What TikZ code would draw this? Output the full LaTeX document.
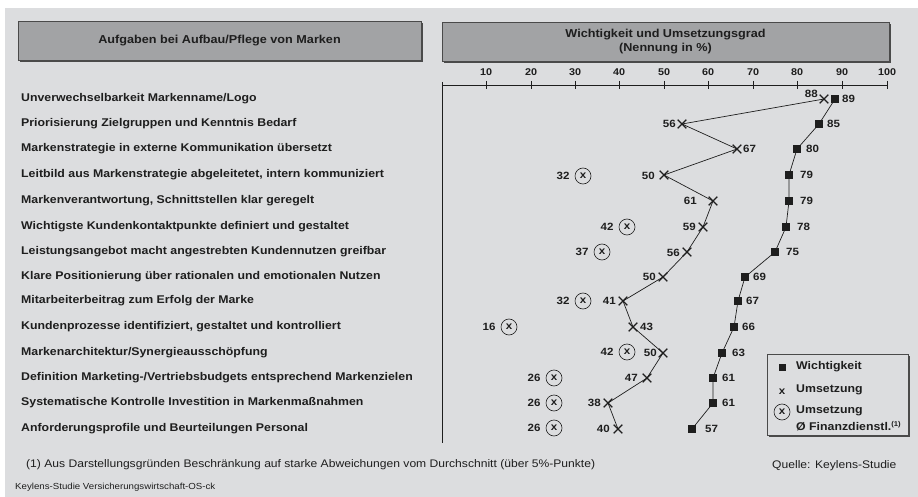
\documentclass[tikz,border=0pt]{standalone}
\usepackage{fontspec}
\setmainfont{Liberation Sans}[FakeStretch=1.1]
\usetikzlibrary{shapes.misc,shadows}
\definecolor{bg}{HTML}{DCDDDF}
\definecolor{hdr}{HTML}{A2A3A5}
\definecolor{ink}{HTML}{1E1E1E}
\definecolor{shd}{HTML}{4A4A4A}
\begin{document}
\begin{tikzpicture}[x=1pt,y=-1pt,
  lab/.style={anchor=west, font=\fontsize{11.2}{13}\selectfont\bfseries, text=ink, inner sep=0pt},
  num/.style={font=\fontsize{10.5}{12}\selectfont\bfseries, text=ink, inner sep=0pt},
  tick/.style={font=\fontsize{9.8}{12}\selectfont\bfseries, text=ink, inner sep=0pt},
  wsq/.style={fill=ink, minimum size=8pt, inner sep=0pt},
  ux/.style={cross out, draw=ink, line width=1.2pt, minimum size=7.5pt, inner sep=0pt},
  cx/.style={circle, draw=ink, line width=0.6pt, minimum size=16pt, inner sep=0pt, font=\fontsize{10.5}{12}\selectfont\bfseries, text=ink},
  hbox/.style={draw=shd, fill=hdr, line width=0.8pt, font=\fontsize{11.5}{14}\selectfont\bfseries, text=ink,
     drop shadow={shadow xshift=2pt, shadow yshift=-2pt, fill=shd, opacity=1}},
  conn/.style={draw=ink, line width=0.7pt},
  axis/.style={draw=ink, line width=0.8pt}]
\useasboundingbox (0,0) rectangle (918,497);
\fill[white] (0,0) rectangle (918,497);
\fill[bg] (5,8) rectangle (918,497);

% headers
\node[hbox, minimum width=403pt, minimum height=39pt] (h1) at (219.5,40.5) {Aufgaben bei Aufbau/Pflege von Marken};
\node[hbox, minimum width=447pt, minimum height=39pt, align=center] (h2) at (665.5,41.5) {Wichtigkeit und Umsetzungsgrad\\(Nennung in \%)};

% axis
\coordinate (a0) at (442,85);
\coordinate (a100) at (887,85);
\coordinate (abot) at (442,443);
\draw[axis] (442,82) -- (abot);
\draw[axis] (a0) -- (a100);
\foreach \v/\xx in {10/486,20/531,30/575,40/619,50/664,60/708,70/753,80/797,90/842,100/887}{
  \draw[axis] (\xx,81) -- (\xx,89);
  \node[tick] (t\v) at (\xx,72) {\v};
}

% row labels
\node[lab] (r1) at (21,99) {Unverwechselbarkeit Markenname/Logo};
\node[lab] (r2) at (21,124) {Priorisierung Zielgruppen und Kenntnis Bedarf};
\node[lab] (r3) at (21,149) {Markenstrategie in externe Kommunikation übersetzt};
\node[lab] (r4) at (21,175) {Leitbild aus Markenstrategie abgeleitetet, intern kommuniziert};
\node[lab] (r5) at (21,201) {Markenverantwortung, Schnittstellen klar geregelt};
\node[lab] (r6) at (21,227) {Wichtigste Kundenkontaktpunkte definiert und gestaltet};
\node[lab] (r7) at (21,252) {Leistungsangebot macht angestrebten Kundennutzen greifbar};
\node[lab] (r8) at (21,277) {Klare Positionierung über rationalen und emotionalen Nutzen};
\node[lab] (r9) at (21,301) {Mitarbeiterbeitrag zum Erfolg der Marke};
\node[lab] (r10) at (21,327) {Kundenprozesse identifiziert, gestaltet und kontrolliert};
\node[lab] (r11) at (21,353) {Markenarchitektur/Synergieausschöpfung};
\node[lab] (r12) at (21,378) {Definition Marketing-/Vertriebsbudgets entsprechend Markenzielen};
\node[lab] (r13) at (21,403) {Systematische Kontrolle Investition in Markenmaßnahmen};
\node[lab] (r14) at (21,429) {Anforderungsprofile und Beurteilungen Personal};

% coordinates
\foreach \i/\wx/\ux/\yy in {1/835/824/99,2/819/682/124,3/797/737/149,4/789/664/175,5/789/713/201,6/786/703/227,7/775/687/252,8/745/663/277,9/738/623/301,10/734/633/327,11/722/663/353,12/713/647/378,13/713/608/403,14/692/618/429}{
  \coordinate (w\i) at (\wx,\yy);
  \coordinate (u\i) at (\ux,\yy);
}
\draw[conn] (u1) -- (u2) -- (u3) -- (u4) -- (u5) -- (u6) -- (u7) -- (u8) -- (u9) -- (u10) -- (u11) -- (u12) -- (u13) -- (u14);
\draw[conn] (w1) -- (w2) -- (w3) -- (w4) -- (w5) -- (w6) -- (w7) -- (w8) -- (w9) -- (w10) -- (w11) -- (w12) -- (w13) -- (w14);
\foreach \i in {1,...,14}{
  \node[wsq] (wm\i) at (w\i) {};
  \node[ux] (um\i) at (u\i) {};
}

% Wichtigkeit labels
\foreach \i/\xx/\v in {1/842/89,2/827/85,3/806/80,4/800/79,5/800/79,6/797/78,7/786/75,8/753/69,9/746/67,10/742/66,11/732/63,12/722/61,13/722/61,14/705/57}{
  \node[num, anchor=west] (wl\i) at (\xx,0 |- w\i) {\v};
}

% Umsetzung labels
\node[num, anchor=east] (ul1) at (818,94) {88};
\node[num, anchor=east] (ul2) at (676,124) {56};
\node[num, anchor=west] (ul3) at (743,149) {67};
\node[num, anchor=east] (ul4) at (655,176) {50};
\node[num, anchor=east] (ul5) at (697,201) {61};
\node[num, anchor=east] (ul6) at (696,227) {59};
\node[num, anchor=east] (ul7) at (680,253) {56};
\node[num, anchor=east] (ul8) at (656,277) {50};
\node[num, anchor=east] (ul9) at (616,301) {41};
\node[num, anchor=west] (ul10) at (640,327) {43};
\node[num, anchor=east] (ul11) at (657,353) {50};
\node[num, anchor=east] (ul12) at (638,378) {47};
\node[num, anchor=east] (ul13) at (601,403) {38};
\node[num, anchor=east] (ul14) at (610,429) {40};

% Finanzdienstleister circles
\foreach \i/\cxx/\v/\yy in {4/583/32/176,6/627/42/227,7/602/37/252,9/583/32/301,10/509/16/327,11/627/42/352,12/554/26/378,13/554/26/403,14/554/26/428}{
  \node[cx] (c\i) at (\cxx,\yy) {x};
  \node[num, anchor=east] (cl\i) at ([xshift=-5pt]c\i.west) {\v};
}

% legend
\node[draw=shd, fill=bg, line width=0.8pt, minimum width=141pt, minimum height=81pt,
  drop shadow={shadow xshift=2pt, shadow yshift=-2pt, fill=shd, opacity=1}] (leg) at (837.5,394.5) {};
\node[fill=ink, minimum size=7pt, inner sep=0pt] (lsq) at (782,367) {};
\node[lab] (lt1) at (796,367) {Wichtigkeit};
\node[num] (lx) at (782,392) {x};
\node[lab] (lt2) at (796,390) {Umsetzung};
\node[cx] (lc) at (782,412) {x};
\node[lab] (lt3) at (796,411) {Umsetzung};
\node[lab] (lt4) at (796,426) {Ø Finanzdienstl.\textsuperscript{\fontsize{7}{8}\selectfont(1)}};

% footer
\node[anchor=west, inner sep=0pt, text=ink, font=\fontsize{11}{13}\selectfont] (fn) at (26,465) {(1) Aus Darstellungsgründen Beschränkung auf starke Abweichungen vom Durchschnitt (über 5\%-Punkte)};
\node[anchor=west, inner sep=0pt, text=ink, font=\fontsize{11}{13}\selectfont] (src) at (772,466) {Quelle: Keylens-Studie};
\node[anchor=west, inner sep=0pt, text=ink, font=\fontsize{8.8}{10}\selectfont] (kl) at (15,487) {Keylens-Studie Versicherungswirtschaft-OS-ck};
\end{tikzpicture}
\end{document}
